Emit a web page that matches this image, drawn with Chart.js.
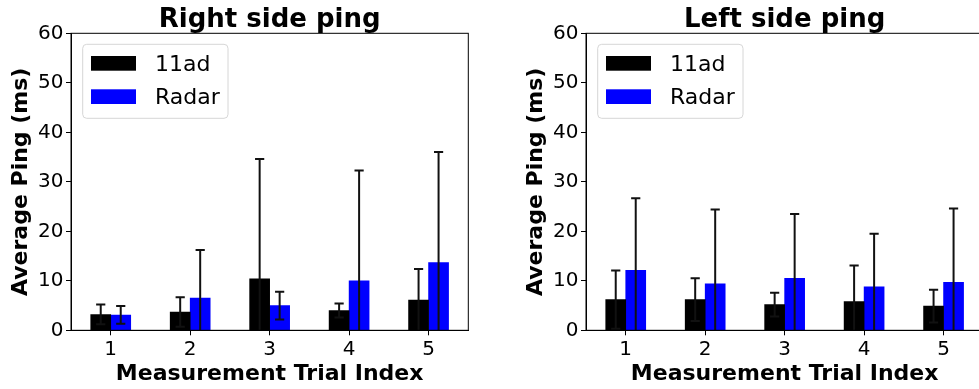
<!DOCTYPE html>
<html>
<head>
<meta charset="utf-8">
<script src="https://cdn.jsdelivr.net/npm/chart.js@4.4.0/dist/chart.umd.min.js"></script>
<style>
  html, body { margin: 0; padding: 0; background: #fff; overflow: hidden; }
  #wrap { position: relative; width: 979px; height: 389px; overflow: hidden; }
  #wrap canvas { position: absolute; top: 0; }
  #rightChart { left: 0; }
  #leftChart { left: 515px; }
</style>
</head>
<body>
<div id="wrap">
  <canvas id="rightChart" width="490" height="389"></canvas>
  <canvas id="leftChart" width="490" height="389"></canvas>
</div>
<script>
// ---- data ----
const trials = ['1', '2', '3', '4', '5'];
const seriesNames = ['11ad', 'Radar'];

// Right side ping
const rightAd = [3.2, 3.7, 10.4, 4.0, 6.1];
const rightAdErr = [2.0, 3.0, 24.2, 1.4, 6.3];
const rightRadar = [3.1, 6.5, 5.0, 10.0, 13.7];
const rightRadarErr = [1.8, 9.7, 2.8, 22.3, 22.3];

// Left side ping
const leftAd = [6.2, 6.2, 5.2, 5.8, 4.9];
const leftAdErr = [5.9, 4.3, 2.4, 7.3, 3.3];
const leftRadar = [12.1, 9.4, 10.5, 8.8, 9.7];
const leftRadarErr = [14.6, 15.0, 13.0, 10.7, 14.9];

const yMin = 0, yMax = 60, yStep = 10;

Chart.defaults.font.family = "'DejaVu Sans', sans-serif";
Chart.defaults.color = '#000';

// error bars, box frame, title and legend (matplotlib look)
const decor = {
  id: 'decor',
  afterDatasetsDraw(chart) {
    const { ctx, chartArea: a, scales: { y } } = chart;
    ctx.save();
    ctx.beginPath();
    ctx.rect(a.left, a.top, a.width, a.height);
    ctx.clip();
    ctx.strokeStyle = '#111';
    ctx.lineWidth = 2;
    chart.data.datasets.forEach((ds, i) => {
      chart.getDatasetMeta(i).data.forEach((bar, j) => {
        const hi = y.getPixelForValue(ds.data[j] + ds.err[j]);
        const lo = y.getPixelForValue(ds.data[j] - ds.err[j]);
        const cap = 4.6;
        ctx.beginPath();
        ctx.moveTo(bar.x, lo); ctx.lineTo(bar.x, hi);
        ctx.moveTo(bar.x - cap, hi); ctx.lineTo(bar.x + cap, hi);
        ctx.moveTo(bar.x - cap, lo); ctx.lineTo(bar.x + cap, lo);
        ctx.stroke();
      });
    });
    ctx.restore();

    ctx.save();
    ctx.strokeStyle = '#000';
    ctx.lineWidth = 1;
    ctx.strokeRect(a.left, a.top, a.width, a.height);
    ctx.restore();
  },
  afterDraw(chart, args, opts) {
    const { ctx, chartArea: a } = chart;
    ctx.save();
    // title
    ctx.fillStyle = '#000';
    ctx.font = "bold 26px 'DejaVu Sans'";
    ctx.textAlign = 'center';
    ctx.textBaseline = 'alphabetic';
    ctx.fillText(opts.title, (a.left + a.right) / 2, 26.5);

    // legend
    const lx = a.left + 11.7, ly = a.top + 11, lw = 145.3, lh = 74;
    ctx.beginPath();
    ctx.roundRect(lx, ly, lw, lh, 4);
    ctx.fillStyle = 'rgba(255,255,255,0.8)';
    ctx.fill();
    ctx.strokeStyle = '#d6d6d6';
    ctx.lineWidth = 1;
    ctx.stroke();
    ctx.font = "22px 'DejaVu Sans'";
    ctx.textAlign = 'left';
    chart.data.datasets.forEach((ds, i) => {
      const rowY = ly + 11.7 + i * 33.3;
      ctx.fillStyle = ds.backgroundColor;
      ctx.fillRect(lx + 8.3, rowY, 45, 14.7);
      ctx.fillStyle = '#000';
      ctx.fillText(ds.label, lx + 72.3, rowY + 15);
    });
    ctx.restore();
  }
};

function makeChart(canvasId, title, ad, adErr, radar, radarErr) {
  return new Chart(document.getElementById(canvasId), {
    type: 'bar',
    data: {
      labels: trials,
      datasets: [
        { label: seriesNames[0], data: ad, err: adErr, backgroundColor: '#000000' },
        { label: seriesNames[1], data: radar, err: radarErr, backgroundColor: '#0000ff' }
      ]
    },
    options: {
      responsive: false,
      animation: false,
      layout: { padding: { top: 33.3, right: 21.7, bottom: 0, left: 0 } },
      datasets: { bar: { barThickness: 20 } },
      plugins: {
        legend: { display: false },
        tooltip: { enabled: false },
        decor: { title }
      },
      scales: {
        x: {
          grid: { drawOnChartArea: false, offset: false, tickLength: 5, color: '#000' },
          border: { color: '#000', width: 1 },
          ticks: { font: { size: 20 }, padding: 2.4, color: '#000' },
          title: {
            display: true, text: 'Measurement Trial Index', color: '#000',
            font: { size: 22, weight: 'bold' }, padding: { top: 0, bottom: 1.6 }
          },
          afterFit: s => { s.height = 58.7; }
        },
        y: {
          min: yMin, max: yMax,
          grid: { drawOnChartArea: false, tickLength: 5, color: '#000' },
          border: { color: '#000', width: 1 },
          ticks: { stepSize: yStep, font: { size: 20 }, padding: 2.5, color: '#000' },
          title: {
            display: true, text: 'Average Ping (ms)', color: '#000',
            font: { size: 22, weight: 'bold' }, padding: { top: 8, bottom: 0 }
          },
          afterFit: s => { s.width = 71; }
        }
      }
    },
    plugins: [decor]
  });
}

makeChart('rightChart', 'Right side ping', rightAd, rightAdErr, rightRadar, rightRadarErr);
makeChart('leftChart', 'Left side ping', leftAd, leftAdErr, leftRadar, leftRadarErr);
</script>
</body>
</html>
